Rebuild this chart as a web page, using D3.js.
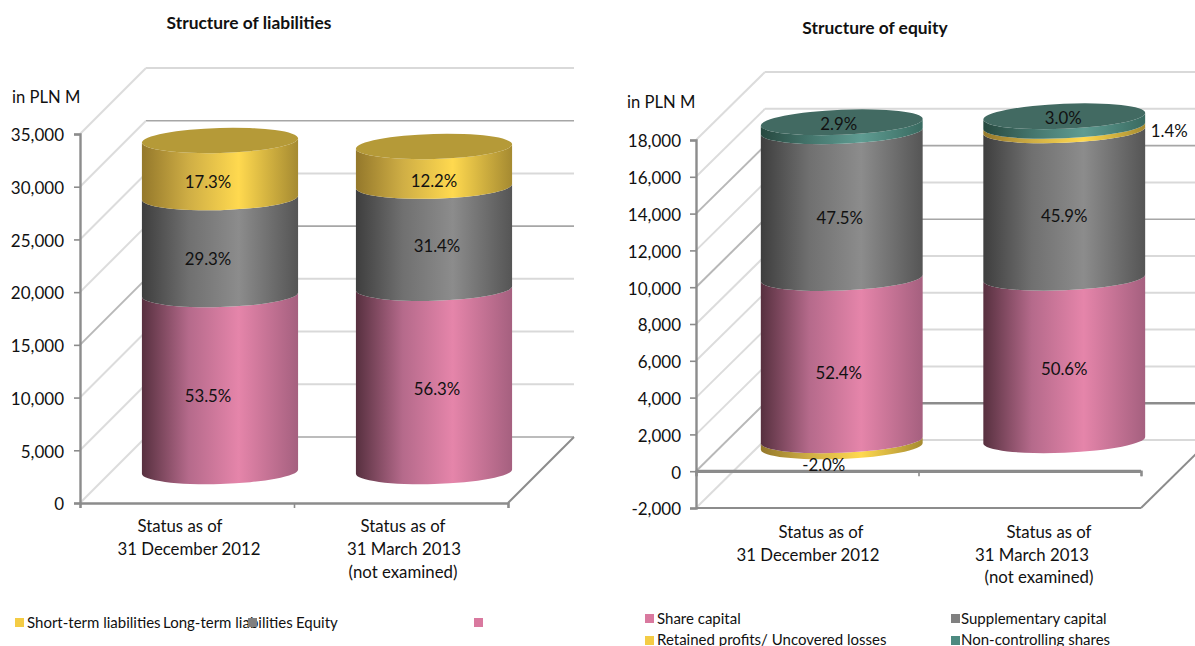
<!DOCTYPE html>
<html>
<head>
<meta charset="utf-8">
<script src="https://cdn.jsdelivr.net/npm/d3@7"></script>
<style>
  html, body { margin: 0; padding: 0; background: #fff; }
  svg { display: block; }
  text { font-family: Lato, "Open Sans", sans-serif; fill: #111; }
</style>
</head>
<body>
<svg id="chart" width="1195" height="646"></svg>
<script>
// Liabilities: balance totals (PLN M) and percentage shares per period
const liabilityTotals = [31370, 30860];
const liabilitySeries = ["Equity", "Long-term liabilities", "Short-term liabilities"];
const liabilityEquity = [53.5, 56.3];
const liabilityLongTerm = [29.3, 31.4];
const liabilityShortTerm = [17.3, 12.2];

// Equity: totals (PLN M) and percentage shares per period
const equityTotals = [16810, 17450];
const equitySeries = ["Share capital", "Supplementary capital", "Retained profits/ Uncovered losses", "Non-controlling shares"];
const equityShareCapital = [52.4, 50.6];
const equitySupplementary = [47.5, 45.9];
const equityRetained = [-2.0, 1.4];
const equityNonControlling = [2.9, 3.0];

const periods = ["dec2012", "mar2013"];
const liabilityTicks = [0, 5000, 10000, 15000, 20000, 25000, 30000, 35000];
const equityTicks = [-2000, 0, 2000, 4000, 6000, 8000, 10000, 12000, 14000, 16000, 18000];

// Side-lit gradient and cap colour for each hue of cylinder
const palette = {
  pink:   { stops: ["#57303f", "#b56a8b", "#e585aa", "#a5607f"], cap: "#e585aa", swatch: "#d9799f" },
  gray:   { stops: ["#3e3e3e", "#707070", "#8c8c8c", "#555555"], cap: "#777777", swatch: "#808080" },
  yellow: { stops: ["#94782b", "#cfae45", "#ffd94f", "#a58a31"], cap: "#b59a38", swatch: "#f4cc45" },
  teal:   { stops: ["#26483f", "#44756c", "#5f9c92", "#396a60"], cap: "#426a62", swatch: "#4d8a80" }
};

const svg = d3.select("#chart");
const defs = svg.append("defs");
Object.entries(palette).forEach(([name, p]) => {
  const g = defs.append("linearGradient").attr("id", "side-" + name)
    .attr("x1", 0).attr("x2", 1).attr("y1", 0).attr("y2", 0);
  [0, 0.3, 0.62, 1].forEach((o, i) => g.append("stop").attr("offset", o).attr("stop-color", p.stops[i]));
});

// Plain hyphen for negatives, comma thousands
const locale = d3.formatLocale({ decimal: ".", thousands: ",", grouping: [3], currency: ["", ""], minus: "-" });
const fmt = locale.format(",");
const pct = locale.format(".1f");

// Draws one 3D stacked-cylinder panel
function drawPanel(cfg) {
  const g = svg.append("g");
  const { x0, x1, yBottom, yTop, domain, depthX, depthY, ticks, rows, totals } = cfg;
  const y = d3.scaleLinear().domain(domain).range([yBottom, yTop]);
  const x = d3.scaleBand().domain(periods).range([x0, x1]);
  const xEdge = d3.scaleLinear().domain([0, 2]).range([x0, x1]);

  // back wall and side wall gridlines
  ticks.forEach(t => {
    const base = t === 0 && domain[0] < 0;
    const py = y(t);
    const backDark = cfg.darkBack.includes(t);
    const diagDark = cfg.darkDiag.includes(t);
    g.append("line").attr("x1", x0 + depthX).attr("x2", x1 + depthX)
      .attr("y1", py - depthY).attr("y2", py - depthY)
      .attr("stroke", base ? "#8c8c8c" : backDark ? "#a6a6a6" : "#d9d9d9")
      .attr("stroke-width", base ? 2.6 : backDark ? 1.6 : 2);
    g.append("line").attr("x1", x0).attr("x2", x0 + depthX)
      .attr("y1", py).attr("y2", py - depthY)
      .attr("stroke", diagDark ? "#b8b8b8" : "#dcdcdc")
      .attr("stroke-width", diagDark ? 2 : 2);
  });

  // floor right edge
  const fy = y(domain[0]);
  g.append("line").attr("x1", x1).attr("x2", x1 + depthX).attr("y1", fy).attr("y2", fy - depthY)
    .attr("stroke", "#8c8c8c").attr("stroke-width", 2);

  if (domain[0] < 0) {
    g.append("line").attr("x1", x0).attr("x2", x1).attr("y1", y(0)).attr("y2", y(0))
      .attr("stroke", "#868686").attr("stroke-width", 3);
  }

  // axes
  const yAxis = g.append("g").attr("transform", `translate(${x0},0)`)
    .call(d3.axisLeft(y).tickValues(ticks).tickFormat(fmt).tickSize(6).tickPadding(cfg.tickPad));
  yAxis.selectAll("text").style("font-size", "17px").attr("dy", "0.4em");
  const xAxis = g.append("g").attr("transform", `translate(0,${domain[0] < 0 ? y(0) : fy})`)
    .call(d3.axisBottom(xEdge).tickValues([0, 1, 2]).tickFormat("").tickSize(5));
  [yAxis, xAxis].forEach(a => {
    a.selectAll("path").attr("stroke", "#8c8c8c").attr("stroke-width", 2.4);
    a.selectAll("line").attr("stroke", "#8c8c8c").attr("stroke-width", 1.6);
  });
  if (domain[0] < 0) {
    g.append("line").attr("x1", x0).attr("x2", x1).attr("y1", fy).attr("y2", fy)
      .attr("stroke", "#8c8c8c").attr("stroke-width", 2);
  }

  // stacked values derived from each period's total and shares
  const table = periods.map((p, i) => {
    const o = { period: p };
    rows.forEach(r => { o[r.key] = r.shares[i] * totals[i] / 100; });
    return o;
  });
  const stacked = d3.stack().keys(rows.map(r => r.key)).offset(d3.stackOffsetDiverging)(table);

  const rx = x.bandwidth() * cfg.radiusRatio;
  const ry = cfg.ry;
  const tilt = cfg.tilt;
  const rad = tilt * Math.PI / 180;
  const ex = rx * Math.cos(rad), ey = rx * Math.sin(rad);

  periods.forEach((p, i) => {
    const cx = x(p) + x.bandwidth() / 2 + depthX / 2;
    const cyl = g.append("g");
    const order = stacked.map((s, k) => ({ s, k, d: s[i] }))
      .filter(o => o.d[1] !== o.d[0])
      .sort((a, b) => a.d[0] - b.d[0]);

    order.forEach(o => {
      const yb = y(o.d[0]) - cfg.lift, yt = y(o.d[1]) - cfg.lift;
      const arc = `${rx} ${ry} ${tilt}`;
      cyl.append("path")
        .attr("d", `M${cx - ex},${yt - ey} A${arc} 0 0 ${cx + ex},${yt + ey} ` +
                   `L${cx + ex},${yb + ey} A${arc} 0 1 ${cx - ex},${yb - ey} Z`)
        .attr("fill", `url(#side-${rows[o.k].color})`);
    });

    const last = order[order.length - 1];
    cyl.append("ellipse").attr("cx", 0).attr("cy", 0).attr("rx", rx).attr("ry", ry)
      .attr("transform", `translate(${cx},${y(last.d[1]) - cfg.lift}) rotate(${tilt})`)
      .attr("fill", palette[rows[last.k].color].cap);
  });

  // percentage labels
  periods.forEach((p, i) => {
    const cx = x(p) + x.bandwidth() / 2 + depthX / 2;
    rows.forEach((r, k) => {
      const d = stacked[k][i];
      const off = r.nudge[i];
      g.append("text").attr("text-anchor", "middle").attr("dominant-baseline", "middle")
        .attr("x", cx + off[0])
        .attr("y", y((d[0] + d[1]) / 2) - cfg.lift + off[1])
        .style("font-size", "16.8px")
        .text(pct(r.shares[i]) + "%");
    });
  });

  // title, unit and category captions
  g.append("text").attr("x", cfg.title.x).attr("y", cfg.title.y).attr("text-anchor", "middle")
    .style("font-size", "17.4px").style("font-weight", 700).text(cfg.title.text);
  g.append("text").attr("x", cfg.unit.x).attr("y", cfg.unit.y).style("font-size", "16.6px").text("in PLN M");
  cfg.captions.forEach(c => {
    g.append("text").attr("x", c.x).attr("y", c.y + 1).attr("text-anchor", "middle")
      .attr("dominant-baseline", "middle").style("font-size", "16.8px").text(c.text);
  });

  // legend
  cfg.legend.forEach(l => {
    if (l.text) g.append("text").attr("x", l.tx).attr("y", l.ty + 1).attr("dominant-baseline", "middle")
      .style("font-size", "15px").text(l.text);
    if (l.color) g.append("rect").attr("x", l.sx).attr("y", l.sy).attr("width", 9).attr("height", 9)
      .attr("fill", palette[l.color].swatch);
  });
}

drawPanel({
  x0: 80, x1: 508, yBottom: 503, yTop: 134, domain: [0, 35000],
  depthX: 66, depthY: 66, ticks: liabilityTicks, darkBack: [30000, 20000, 0], darkDiag: [15000],
  tickPad: 10, radiusRatio: 0.365, ry: 12.5, tilt: -1.6, lift: 31.5, totals: liabilityTotals,
  rows: [
    { key: "equity", shares: liabilityEquity, color: "pink", nudge: [[-12, 15], [3, 11]] },
    { key: "longTerm", shares: liabilityLongTerm, color: "gray", nudge: [[-12, 15], [3, 11]] },
    { key: "shortTerm", shares: liabilityShortTerm, color: "yellow", nudge: [[-12, 15], [0, 16]] }
  ],
  title: { x: 249, y: 29, text: "Structure of liabilities" },
  unit: { x: 12, y: 103 },
  captions: [
    { x: 180, y: 527, text: "Status as of" }, { x: 189, y: 550, text: "31 December 2012" },
    { x: 403, y: 527, text: "Status as of" }, { x: 404, y: 550, text: "31 March 2013" }, { x: 403, y: 573, text: "(not examined)" }
  ],
  legend: [
    { color: "yellow", sx: 15, sy: 618, text: liabilitySeries[2], tx: 27, ty: 623 },
    { text: liabilitySeries[1], tx: 163, ty: 623 },
    { color: "gray", sx: 248, sy: 618 },
    { text: liabilitySeries[0], tx: 296, ty: 623 },
    { color: "pink", sx: 474, sy: 618 }
  ]
});

drawPanel({
  x0: 696, x1: 1141, yBottom: 508, yTop: 140, domain: [-2000, 18000],
  depthX: 69, depthY: 68, ticks: equityTicks, darkBack: [14000, 10000], darkDiag: [14000, 10000, 0],
  tickPad: 9, radiusRatio: 0.364, ry: 12.5, tilt: -2.4, lift: 31, totals: equityTotals,
  rows: [
    { key: "share", shares: equityShareCapital, color: "pink", nudge: [[-3, 16], [0, 12]] },
    { key: "supp", shares: equitySupplementary, color: "gray", nudge: [[-2, 15], [0, 14]] },
    { key: "retained", shares: equityRetained, color: "yellow", nudge: [[-18, 23], [105, 5]] },
    { key: "nci", shares: equityNonControlling, color: "teal", nudge: [[-3, -1], [-1, -1]] }
  ],
  title: { x: 875, y: 34, text: "Structure of equity" },
  unit: { x: 627, y: 108 },
  captions: [
    { x: 821, y: 533, text: "Status as of" }, { x: 808, y: 556, text: "31 December 2012" },
    { x: 1049, y: 533, text: "Status as of" }, { x: 1032, y: 556, text: "31 March 2013" }, { x: 1039, y: 578, text: "(not examined)" }
  ],
  legend: [
    { color: "pink", sx: 645, sy: 614, text: equitySeries[0], tx: 657, ty: 619 },
    { color: "gray", sx: 951, sy: 614, text: equitySeries[1], tx: 961, ty: 619 },
    { color: "yellow", sx: 645, sy: 636, text: equitySeries[2], tx: 657, ty: 640 },
    { color: "teal", sx: 951, sy: 636, text: equitySeries[3], tx: 961, ty: 640 }
  ]
});
</script>
</body>
</html>
